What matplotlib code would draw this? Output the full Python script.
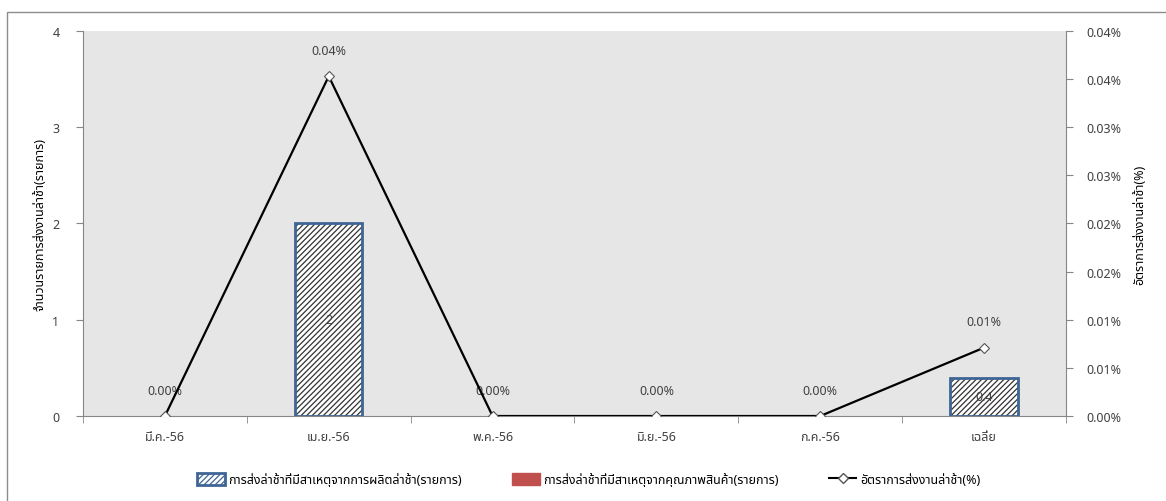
import matplotlib
matplotlib.use("Agg")
import matplotlib.pyplot as plt
import numpy as np
from matplotlib.patches import Patch, Rectangle
from matplotlib.lines import Line2D

plt.rcParams['font.family'] = ['Tahoma', 'Noto Sans Thai', 'Noto Sans Thai UI', 'Loma',
                               'Garuda', 'Tlwg Typo', 'Norasi', 'DejaVu Sans']
plt.rcParams['hatch.linewidth'] = 0.9

months = ['มี.ค.-56', 'เม.ย.-56', 'พ.ค.-56', 'มิ.ย.-56', 'ก.ค.-56', 'เฉลี่ย']
late_production = [0, 2, 0, 0, 0, 0.4]       # รายการ
late_quality = [0, 0, 0, 0, 0, 0]            # รายการ
late_rate = [0, 0.0353, 0, 0, 0, 0.0071]     # %

name_prod = 'การส่งล่าช้าที่มีสาเหตุจากการผลิตล่าช้า(รายการ)'
name_qual = 'การส่งล่าช้าที่มีสาเหตุจากคุณภาพสินค้า(รายการ)'
name_rate = 'อัตราการส่งงานล่าช้า(%)'

edge_blue = '#3e6595'
red = '#c0504d'
axis_gray = '#868686'
text_col = '#404040'

fig = plt.figure(figsize=(11.66, 5.02), dpi=100)
fig.patches.append(Rectangle((0.006, -0.05), 1.2, 1.024, transform=fig.transFigure,
                             fill=False, edgecolor='#8c8c8c', linewidth=1.0))
ax = fig.add_axes([0.0712, 0.1693, 0.843, 0.767])
ax.set_facecolor('#e6e6e6')
x = np.arange(len(months))
w = 0.41

# hatched fill in dark grey, blue outline drawn on top; zero bars stay invisible
ax.bar(x, late_production, width=w, color='white', edgecolor='#333333',
       hatch='//////', linewidth=0, zorder=2)
outline_lw = [2 if v else 0 for v in late_production]
bars = ax.bar(x, late_production, width=w, fill=False, edgecolor=edge_blue,
              linewidth=outline_lw, zorder=2.5)
ax.bar(x, late_quality, width=w, color=red, linewidth=0, zorder=2)
for b, v in zip(bars, late_production):
    if v:
        ax.text(b.get_x() + b.get_width() / 2, v / 2, f'{v:g}', ha='center', va='center',
                fontsize=9, color=text_col, zorder=3)

ax.set_xlim(-0.5, len(months) - 0.5)
ax.set_ylim(0, 4)
ax.set_yticks([0, 1, 2, 3, 4])
ax.set_xticks(x)
ax.set_xticklabels(months)
ax.set_xticks(np.arange(-0.5, len(months)), minor=True)
ax.tick_params(axis='x', which='major', length=0, pad=10, labelsize=9, labelcolor=text_col)
ax.tick_params(axis='x', which='minor', length=5, color=axis_gray, direction='out')
ax.tick_params(axis='y', length=5, color=axis_gray, pad=12, labelsize=9, labelcolor=text_col)
for s in ['top', 'right']:
    ax.spines[s].set_visible(False)
for s in ['left', 'bottom']:
    ax.spines[s].set_color(axis_gray)
ax.set_ylabel('จำนวนรายการส่งงานล่าช้า(รายการ)', fontsize=9, fontweight='bold', labelpad=4)

ax2 = ax.twinx()
ax2.plot(x, late_rate, color='black', linewidth=1.6, marker='D', markersize=5,
         markerfacecolor='white', markeredgecolor='#555555', markeredgewidth=0.8, zorder=4)
for xi, v in zip(x, late_rate):
    ax2.annotate(f'{v + 1e-9:.2f}%', (xi, v), textcoords='offset points', xytext=(0, 14),
                 ha='center', va='bottom', fontsize=9, color=text_col)
ax2.set_ylim(0, 0.04)
ticks_r = np.arange(0, 0.0401, 0.005)
ax2.set_yticks(ticks_r)
ax2.set_yticklabels([f'{t + 1e-9:.2f}%' for t in ticks_r])
ax2.tick_params(axis='y', length=5, color=axis_gray, pad=10, labelsize=9, labelcolor=text_col)
for s in ['top', 'left', 'bottom']:
    ax2.spines[s].set_visible(False)
ax2.spines['right'].set_color(axis_gray)
ax2.set_ylabel(name_rate, fontsize=9, fontweight='bold', rotation=90, va='top', labelpad=8)

handles = [
    Patch(facecolor='white', edgecolor=edge_blue, hatch='//////', linewidth=2, label=name_prod),
    Patch(facecolor=red, edgecolor=red, label=name_qual),
    Line2D([], [], color='black', marker='D', markersize=5, markerfacecolor='white',
           markeredgecolor='#555555', label=name_rate),
]
fig.legend(handles=handles, loc='center', bbox_to_anchor=(0.505, 0.043), ncol=3,
           frameon=False, fontsize=9, handlelength=2.2, handleheight=1.1,
           handletextpad=0.3, columnspacing=4)

fig.savefig('out.png', dpi=100)
